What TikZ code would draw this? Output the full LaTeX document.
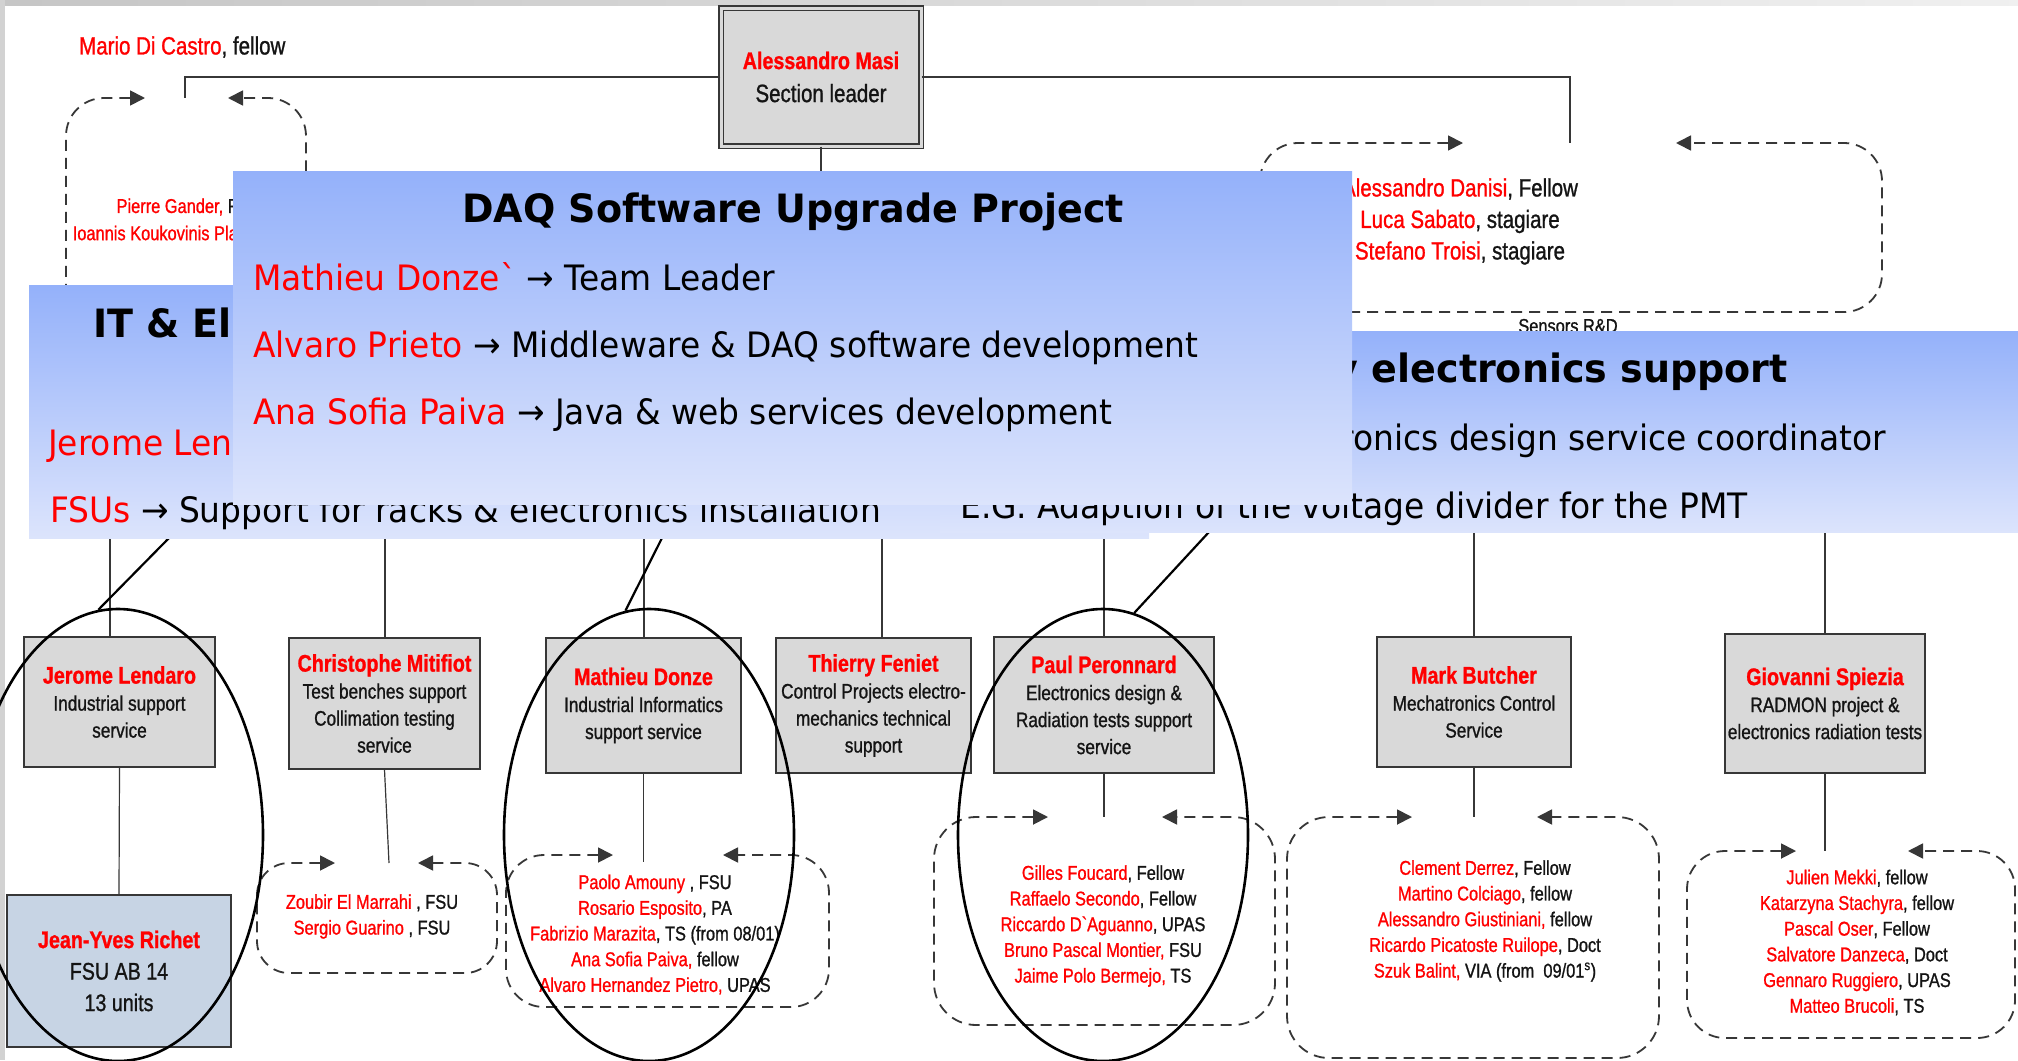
\documentclass[tikz,border=0pt]{standalone}
\usepackage{fontspec}
\setmainfont{Liberation Sans}
\newfontfamily\nar[FakeStretch=0.82,FakeBold=1.0]{Liberation Sans}
\newfontfamily\tah[FakeStretch=0.94]{DejaVu Sans}
\newfontfamily\tahb[FakeStretch=0.975]{DejaVu Sans Bold}
\usetikzlibrary{shapes.geometric,arrows.meta}
\definecolor{cred}{RGB}{255,0,0}
\definecolor{boxgray}{RGB}{217,217,217}
\definecolor{boxline}{RGB}{55,55,55}
\definecolor{jyfill}{RGB}{199,212,228}
\definecolor{ptop}{RGB}{148,177,250}
\definecolor{pbot}{RGB}{220,228,252}
\definecolor{ink}{RGB}{20,20,20}
\newcommand\redn[1]{{\color{cred}#1}}
\newcommand\boxname[1]{{\bfseries\fontsize{24}{27}\selectfont\color{cred}#1}}
\tikzset{
  orgbox/.style={draw=boxline, line width=1.3pt, fill=boxgray, inner sep=0, align=center,
    font=\nar\fontsize{21}{27}\selectfont, text=ink},
  conn/.style={draw=boxline, line width=1.2pt},
  dloop/.style={draw=boxline, line width=1.8pt, dash pattern=on 11pt off 7pt, rounded corners=38pt,
    {Triangle[length=15pt,width=15pt]}-{Triangle[length=15pt,width=15pt]}},
  ring/.style={ellipse, draw=black, line width=2.6pt, minimum width=290pt, minimum height=452pt, inner sep=0},
  panel/.style={anchor=north west, inner sep=0, top color=ptop, bottom color=pbot, draw=none},
  ptxt/.style={font=\tah\fontsize{35}{42}\selectfont, inner sep=0, text=black},
  ptitle/.style={font=\tahb\fontsize{39}{46}\selectfont, inner sep=0, text=black},
  memb/.style={font=\nar\fontsize{20}{25.7}\selectfont, align=center, inner sep=0, text=ink},
  big/.style={font=\nar\fontsize{25}{31.5}\selectfont, align=center, inner sep=0, text=ink},
}
\begin{document}
\begin{tikzpicture}[x=1pt,y=-1pt]
\useasboundingbox (0,0) rectangle (2018,1060);
\fill[white] (0,0) rectangle (2018,1060);
\shade[left color=gray!45, right color=gray!12] (0,0) rectangle (2018,5);
\fill[gray!35] (0,0) rectangle (5,1060);

% ---------- top of hierarchy ----------
\node[orgbox, minimum width=200pt, minimum height=138pt, double=boxgray, double distance=3pt,
      font=\nar\fontsize{25}{33}\selectfont] (masi) at (821,77) {\boxname{Alessandro Masi}\\Section leader};
\node[big, anchor=west] (mario) at (79,47) {\redn{Mario Di Castro}, fellow};

\coordinate (cPi) at (185,98);
\coordinate (cSe) at (1570,143);
\draw[conn] (masi.west) -| (cPi);
\draw[conn] (masi.east) -| (cSe);

% Pierre Gander loop
\coordinate (piL) at (145,98);
\coordinate (piR) at (228,98);
\draw[dloop] (piL) -- (66,98) -- (66,340) -- (306,340) -- (306,98) -- (piR);
\node[memb, anchor=east] (pierre) at (238,207) {\redn{Pierre Gander,} F};
\node[memb, anchor=east] (ioannis) at (238,233) {\redn{Ioannis Koukovinis Pla}};

% Sensors R&D loop
\coordinate (seL) at (1463,143);
\coordinate (seR) at (1676,143);
\draw[dloop] (seL) -- (1260,143) -- (1260,312) -- (1882,312) -- (1882,143) -- (seR);
\node[big] (sensm) at (1460,221.5) {\redn{Alessandro Danisi}, Fellow\\\redn{Luca Sabato}, stagiare\\\redn{Stefano Troisi}, stagiare};
\node[memb] (senslbl) at (1568,326) {Sensors R\&D};

% ---------- lower boxes ----------
\node[orgbox, minimum width=191pt, minimum height=130pt] (jerome) at (119.5,702) {\boxname{Jerome Lendaro}\\Industrial support\\service};
\node[orgbox, minimum width=191pt, minimum height=131pt] (christophe) at (384.5,703.5) {\boxname{Christophe Mitifiot}\\Test benches support\\Collimation testing\\service};
\node[orgbox, minimum width=195pt, minimum height=135pt] (mathieu) at (643.5,705.5) {\boxname{Mathieu Donze}\\Industrial Informatics\\support service};
\node[orgbox, minimum width=195pt, minimum height=135pt] (thierry) at (873.5,705.5) {\boxname{Thierry Feniet}\\Control Projects electro-\\mechanics technical\\support};
\node[orgbox, minimum width=220pt, minimum height=136pt] (paul) at (1104,705) {\boxname{Paul Peronnard}\\Electronics design \&\\Radiation tests support\\service};
\node[orgbox, minimum width=194pt, minimum height=130pt] (mark) at (1474,702) {\boxname{Mark Butcher}\\Mechatronics Control\\Service};
\node[orgbox, minimum width=200pt, minimum height=139pt] (giovanni) at (1825,703.5) {\boxname{Giovanni Spiezia}\\RADMON project \&\\electronics radiation tests};
\node[orgbox, fill=jyfill, minimum width=224pt, minimum height=152pt, font=\nar\fontsize{24}{31.5}\selectfont] (jeanyves) at (119,971) {\boxname{Jean-Yves Richet}\\FSU AB 14\\13 units};

% bus (hidden under the panels)
\coordinate (tJ) at (110,470);
\coordinate (tC) at (385,470);
\coordinate (tM) at (644,470);
\coordinate (tT) at (882,470);
\coordinate (tP) at (1104,470);
\coordinate (tK) at (1474,470);
\coordinate (tG) at (1825,470);
\draw[conn] (masi.south) -- (masi.south |- tJ);
\draw[conn] (tJ) -- (tG);
\foreach \t/\b in {tJ/jerome, tC/christophe, tM/mathieu, tT/thierry, tP/paul, tK/mark, tG/giovanni}
  \draw[conn] (\t) -- (\t |- \b.north);

% box to team lines
\coordinate (cC) at (389,863);
\coordinate (cM) at (643.5,862);
\coordinate (cP) at (1104,817);
\coordinate (cK) at (1474,817);
\coordinate (cG) at (1825,851);
\draw[conn] (jerome.south) -- (jeanyves.north);
\draw[conn] (christophe.south) -- (cC);
\draw[conn] (mathieu.south) -- (cM);
\draw[conn] (paul.south) -- (cP);
\draw[conn] (mark.south) -- (cK);
\draw[conn] (giovanni.south) -- (cG);

% team loops
\coordinate (chL) at (335,863);  \coordinate (chR) at (418,863);
\draw[dloop, rounded corners=32pt] (chL) -- (257,863) -- (257,973) -- (497,973) -- (497,863) -- (chR);
\coordinate (maL) at (613,855);  \coordinate (maR) at (723,855);
\draw[dloop] (maL) -- (506,855) -- (506,1007) -- (829,1007) -- (829,855) -- (maR);
\coordinate (paL) at (1048,817); \coordinate (paR) at (1162,817);
\draw[dloop, rounded corners=42pt] (paL) -- (934,817) -- (934,1025) -- (1275,1025) -- (1275,817) -- (paR);
\coordinate (mkL) at (1412,817); \coordinate (mkR) at (1537,817);
\draw[dloop, rounded corners=42pt] (mkL) -- (1287,817) -- (1287,1058) -- (1659,1058) -- (1659,817) -- (mkR);
\coordinate (giL) at (1796,851); \coordinate (giR) at (1908,851);
\draw[dloop] (giL) -- (1687,851) -- (1687,1038) -- (2015,1038) -- (2015,851) -- (giR);

\node[memb] (chm) at (372,916.5) {\redn{Zoubir El Marrahi} , FSU\\\redn{Sergio Guarino} , FSU};
\node[memb] (mam) at (655,934.5) {\redn{Paolo Amouny} , FSU\\\redn{Rosario Esposito}, PA\\\redn{Fabrizio Marazita}, TS (from 08/01)\\\redn{Ana Sofia Paiva,} fellow\\\redn{Alvaro Hernandez Pietro,} UPAS};
\node[memb] (pam) at (1103,926) {\redn{Gilles Foucard}, Fellow\\\redn{Raffaelo Secondo}, Fellow\\\redn{Riccardo D`Aguanno}, UPAS\\\redn{Bruno Pascal Montier,} FSU\\\redn{Jaime Polo Bermejo,} TS};
\node[memb] (mkm) at (1485,921) {\redn{Clement Derrez}, Fellow\\\redn{Martino Colciago}, fellow\\\redn{Alessandro Giustiniani,} fellow\\\redn{Ricardo Picatoste Ruilope}, Doct\\\redn{Szuk Balint,} VIA (from\ \ 09/01\textsuperscript{s})};
\node[memb] (gim) at (1857,942.5) {\redn{Julien Mekki}, fellow\\\redn{Katarzyna Stachyra}, fellow\\\redn{Pascal Oser}, Fellow\\\redn{Salvatore Danzeca}, Doct\\\redn{Gennaro Ruggiero}, UPAS\\\redn{Matteo Brucoli}, TS};

% ellipses
\node[ring] (ellJ) at (118,835) {};
\node[ring] (ellM) at (649,835) {};
\node[ring] (ellP) at (1103,835) {};
\coordinate (dJ) at (169,538);
\coordinate (dM) at (662,538);
\coordinate (dP) at (1209,532);
\draw[black, line width=2.2pt] (dJ) -- (ellJ.95);
\draw[black, line width=2.2pt] (dM) -- (ellM.96);
\draw[black, line width=2.2pt] (dP) -- (ellP.82);

% ---------- overlay panels ----------
\node[panel, minimum width=1120pt, minimum height=253pt] (itp) at (29,285) {};
\node[ptitle, anchor=base west] (itt) at (93,337) {IT \& El};
\node[ptxt, anchor=base west] (it1) at (48,455) {\redn{Jerome Len}};
\node[ptxt, anchor=base west] (it2) at (50,522) {\redn{FSUs} → Support for racks \& electronics installation};

\node[panel, minimum width=1080pt, minimum height=201pt] (elp) at (940,331) {};
\node[ptitle, anchor=base east] (elt) at (1788,382) {y electronics support};
\node[ptxt, anchor=base east] (el1) at (1886,450) {ronics design service coordinator};
\node[ptxt, anchor=base west] (el2) at (960,518) {E.G. Adaption of the voltage divider for the PMT};

\node[panel, minimum width=1119pt, minimum height=333pt] (daq) at (233,171) {};
\node[ptitle, anchor=base] (daqt) at (793,222) {DAQ Software Upgrade Project};
\node[ptxt, anchor=base west] (dq1) at (253,290) {\redn{Mathieu Donze`} → Team Leader};
\node[ptxt, anchor=base west] (dq2) at (253,357) {\redn{Alvaro Prieto} → Middleware \& DAQ software development};
\node[ptxt, anchor=base west] (dq3) at (253,424) {\redn{Ana Sofia Paiva} → Java \& web services development};
\end{tikzpicture}
\end{document}
